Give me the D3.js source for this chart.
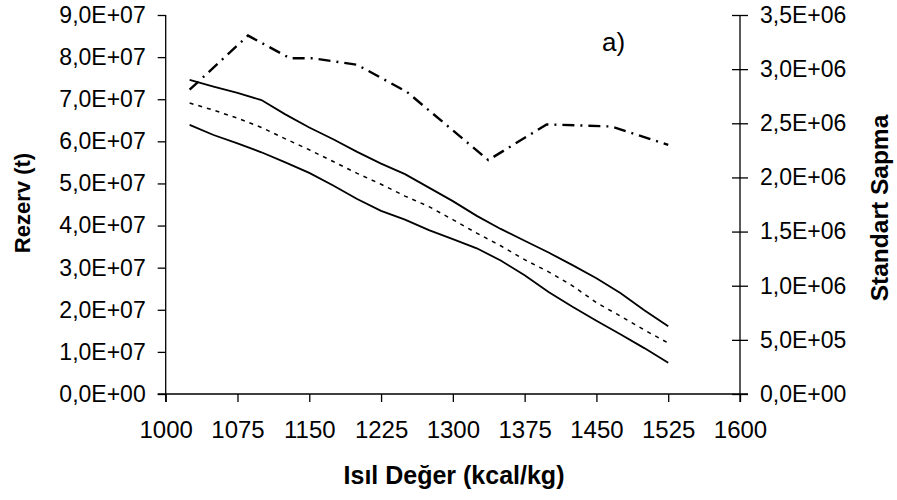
<!DOCTYPE html>
<html>
<head>
<meta charset="utf-8">
<script src="https://cdn.jsdelivr.net/npm/d3@7"></script>
<style>
	body { margin: 0; background: #fff; }
	svg { display: block; }
	text { font-family: "Liberation Sans", Arial, sans-serif; fill: #000; }
	.tickLbl { font-size: 23px; }
	.xLbl { font-size: 24px; }
	.axTitle { font-weight: bold; font-size: 22px; }
	.axTitleR { font-weight: bold; font-size: 24.5px; }
	.xTitle { font-weight: bold; font-size: 25px; }
	.panel { font-size: 26px; }
	.axLine { stroke: #000; stroke-width: 1.3; fill: none; }
</style>
</head>
<body>
<svg id="chart" width="897" height="500"></svg>
<script>
// heat value (kcal/kg) for the reserve curves
var isilDeger = [1025, 1050, 1075, 1100, 1125, 1150, 1175, 1200, 1225, 1250, 1275,
	1300, 1325, 1350, 1375, 1400, 1425, 1450, 1475, 1500, 1525];

// reserve (t), upper bound / mean / lower bound
var rezervUst = [7.46e7, 7.30e7, 7.15e7, 6.98e7, 6.64e7, 6.33e7, 6.05e7, 5.75e7, 5.47e7, 5.22e7, 4.90e7,
	4.58e7, 4.23e7, 3.92e7, 3.64e7, 3.36e7, 3.06e7, 2.75e7, 2.40e7, 1.99e7, 1.61e7];
var rezervOrt = [6.91e7, 6.74e7, 6.55e7, 6.33e7, 6.06e7, 5.80e7, 5.52e7, 5.24e7, 4.98e7, 4.70e7, 4.45e7,
	4.14e7, 3.82e7, 3.52e7, 3.19e7, 2.90e7, 2.57e7, 2.17e7, 1.85e7, 1.52e7, 1.21e7];
var rezervAlt = [6.39e7, 6.15e7, 5.95e7, 5.74e7, 5.50e7, 5.25e7, 4.95e7, 4.63e7, 4.35e7, 4.14e7, 3.89e7,
	3.68e7, 3.46e7, 3.17e7, 2.82e7, 2.42e7, 2.07e7, 1.74e7, 1.42e7, 1.09e7, 0.74e7];

// standard deviation curve (right axis)
var sdX = [1025, 1086, 1130, 1154, 1200, 1252, 1337, 1398, 1466, 1525];
var sdY = [2.81e6, 3.31e6, 3.10e6, 3.10e6, 3.04e6, 2.79e6, 2.16e6, 2.49e6, 2.47e6, 2.30e6];

var xTicks = [1000, 1075, 1150, 1225, 1300, 1375, 1450, 1525, 1600];
var yLeftTicks = d3.range(0, 9.01e7, 1e7);
var yRightTicks = d3.range(0, 3.51e6, 5e5);

var pLeft = 165.7, pRight = 740, pTop = 15, pBottom = 394;

svg = d3.select('#chart');

x = d3.scaleLinear().domain([1000, 1600]).range([pLeft, pRight]);
yL = d3.scaleLinear().domain([0, 9e7]).range([pBottom, pTop]);
yR = d3.scaleLinear().domain([0, 3.5e6]).range([pBottom, pTop]);

// excel style exponent label with comma decimal
fmtE = function(v) {
	if (v == 0) return '0,0E+00';
	var e = Math.floor(Math.log10(v) + 1e-9);
	var m = v / Math.pow(10, e);
	return m.toFixed(1).replace('.', ',') + 'E+' + (e < 10 ? '0' + e : e);
}

// axes
xAxis = svg.append('g')
	.attr('transform', `translate(0,${pBottom})`)
	.call(d3.axisBottom(x).tickValues(xTicks).tickSize(8).tickPadding(23).tickFormat(d3.format('d')));
xAxis.selectAll('text').attr('class', 'xLbl').attr('dy', '0.55em');

leftAxis = svg.append('g')
	.attr('transform', `translate(${pLeft},0)`)
	.call(d3.axisLeft(yL).tickValues(yLeftTicks).tickSize(8).tickPadding(12).tickFormat(fmtE));
leftAxis.selectAll('text').attr('class', 'tickLbl');

rightAxis = svg.append('g')
	.attr('transform', `translate(${pRight},0)`)
	.call(d3.axisRight(yR).tickValues(yRightTicks).tickSize(8).tickPadding(12).tickFormat(fmtE));
rightAxis.selectAll('text').attr('class', 'tickLbl');
// right ticks cross the axis line
rightAxis.selectAll('.tick line').attr('x1', -8);

svg.selectAll('.domain').remove();
svg.selectAll('.tick line').attr('stroke', '#000').attr('stroke-width', 1.3);

// plain axis lines
svg.append('line').attr('class', 'axLine')
	.attr('x1', pLeft - 8).attr('x2', pRight + 8).attr('y1', pBottom).attr('y2', pBottom);
svg.append('line').attr('class', 'axLine')
	.attr('x1', pLeft).attr('x2', pLeft).attr('y1', pTop).attr('y2', pBottom + 8);
svg.append('line').attr('class', 'axLine')
	.attr('x1', pRight).attr('x2', pRight).attr('y1', pTop).attr('y2', pBottom + 8);

// curves
lineL = d3.line().x(d => x(d[0])).y(d => yL(d[1]));
lineR = d3.line().x(d => x(d[0])).y(d => yR(d[1]));

svg.append('path')
	.datum(d3.zip(isilDeger, rezervUst))
	.attr('d', lineL)
	.attr('fill', 'none').attr('stroke', '#000').attr('stroke-width', 1.8);

svg.append('path')
	.datum(d3.zip(isilDeger, rezervAlt))
	.attr('d', lineL)
	.attr('fill', 'none').attr('stroke', '#000').attr('stroke-width', 1.8);

svg.append('path')
	.datum(d3.zip(isilDeger, rezervOrt))
	.attr('d', lineL)
	.attr('fill', 'none').attr('stroke', '#000').attr('stroke-width', 1.5)
	.attr('stroke-dasharray', '4,5');

svg.append('path')
	.datum(d3.zip(sdX, sdY))
	.attr('d', lineR)
	.attr('fill', 'none').attr('stroke', '#000').attr('stroke-width', 2.4)
	.attr('stroke-dasharray', '12,6,2,6');

// titles
svg.append('text')
	.attr('class', 'axTitle')
	.attr('transform', 'translate(30,203) rotate(-90)')
	.attr('text-anchor', 'middle')
	.text('Rezerv (t)');

svg.append('text')
	.attr('class', 'axTitleR')
	.attr('transform', 'translate(888,208) rotate(-90)')
	.attr('text-anchor', 'middle')
	.text('Standart Sapma');

svg.append('text')
	.attr('class', 'xTitle')
	.attr('x', 454)
	.attr('y', 484)
	.attr('text-anchor', 'middle')
	.text('Isıl Değer (kcal/kg)');

svg.append('text')
	.attr('class', 'panel')
	.attr('x', 602)
	.attr('y', 51)
	.text('a)');
</script>
</body>
</html>
